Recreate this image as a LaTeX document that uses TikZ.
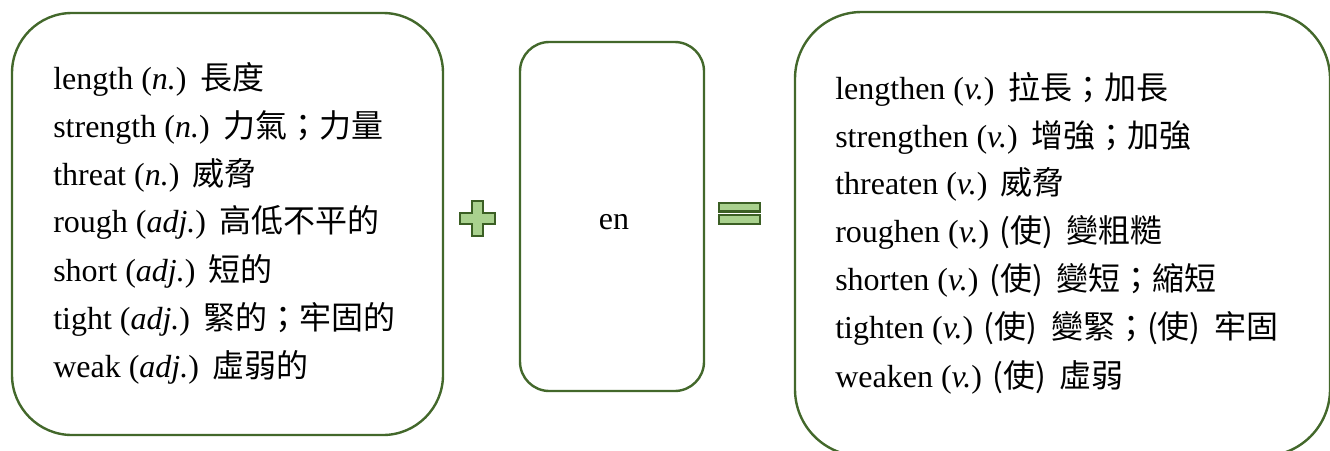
\documentclass[tikz,border=0pt]{standalone}
\usepackage{fontspec}
\setmainfont{Liberation Serif}
\newfontfamily\zhfont{Noto Sans CJK TC}
\newcommand{\zh}[1]{{\zhfont #1}}
\newcommand{\gp}{\hspace{0.42em}}
\definecolor{boxgreen}{HTML}{43682B}
\definecolor{signline}{HTML}{3B5F24}
\definecolor{signfill}{HTML}{A9D18E}
\begin{document}
\begin{tikzpicture}[x=0.75pt,y=-0.75pt,
  wordbox/.style={draw=boxgreen,line width=1.8pt,inner sep=0pt,outer sep=0pt},
  entry/.style={anchor=base west,inner sep=0pt,font=\fontsize{24}{29}\selectfont},
  sign/.style={draw=signline,fill=signfill,line width=2pt,line join=miter}]
\useasboundingbox (0,0) rectangle (1330,450);
\clip (0,0) rectangle (1330,450);
% boxes
\node (L) [wordbox,rounded corners=45pt,minimum width=323.25pt,minimum height=316.5pt] at (227.5,224) {};
\node (M) [wordbox,rounded corners=22pt,minimum width=138pt,minimum height=261.75pt] at (612,216.5) {};
\node (R) [wordbox,rounded corners=50pt,minimum width=401.25pt,minimum height=333pt] at (1062.5,234) {};
% left entries
\node (l1) [entry] at (53,89)  {length (\textit{n.})\gp\zh{長度}};
\node (l2) [entry] at (53,137) {strength (\textit{n.})\gp\zh{力氣；力量}};
\node (l3) [entry] at (53,185) {threat (\textit{n.})\gp\zh{威脅}};
\node (l4) [entry] at (53,232) {rough (\textit{adj.})\gp\zh{高低不平的}};
\node (l5) [entry] at (53,281) {short (\textit{adj.})\gp\zh{短的}};
\node (l6) [entry] at (53,329) {tight (\textit{adj.})\gp\zh{緊的；牢固的}};
\node (l7) [entry] at (53,377) {weak (\textit{adj.})\gp\zh{虛弱的}};
% middle
\node (en) [anchor=base,inner sep=0pt,font=\fontsize{24}{29}\selectfont] at (614,229) {en};
% right entries
\node (r1) [entry] at (835,99)  {lengthen (\textit{v.})\gp\zh{拉長；加長}};
\node (r2) [entry] at (835,147) {strengthen (\textit{v.})\gp\zh{增強；加強}};
\node (r3) [entry] at (835,194) {threaten (\textit{v.})\gp\zh{威脅}};
\node (r4) [entry] at (835,242) {roughen (\textit{v.}) \zh{(使)}\gp\zh{變粗糙}};
\node (r5) [entry] at (835,290) {shorten (\textit{v.}) \zh{(使)}\gp\zh{變短；縮短}};
\node (r6) [entry] at (835,338) {tighten (\textit{v.}) \zh{(使)}\gp\zh{變緊；(使)}\gp\zh{牢固}};
\node (r7) [entry] at (835,387) {weaken (\textit{v.}) \zh{(使)}\gp\zh{虛弱}};
% plus sign
\coordinate (P) at (477.5,218.5);
\draw[sign] ([shift={(-5.5,-17.5)}]P) -- ([shift={(5.5,-17.5)}]P) -- ([shift={(5.5,-5.5)}]P)
  -- ([shift={(17.5,-5.5)}]P) -- ([shift={(17.5,5.5)}]P) -- ([shift={(5.5,5.5)}]P)
  -- ([shift={(5.5,17.5)}]P) -- ([shift={(-5.5,17.5)}]P) -- ([shift={(-5.5,5.5)}]P)
  -- ([shift={(-17.5,5.5)}]P) -- ([shift={(-17.5,-5.5)}]P) -- ([shift={(-5.5,-5.5)}]P) -- cycle;
% equals sign
\coordinate (E) at (739.5,213.5);
\draw[sign] ([shift={(-20.5,-10.5)}]E) rectangle ([shift={(20.5,-2)}]E);
\draw[sign] ([shift={(-20.5,1.5)}]E) rectangle ([shift={(20.5,10.5)}]E);
\end{tikzpicture}
\end{document}
